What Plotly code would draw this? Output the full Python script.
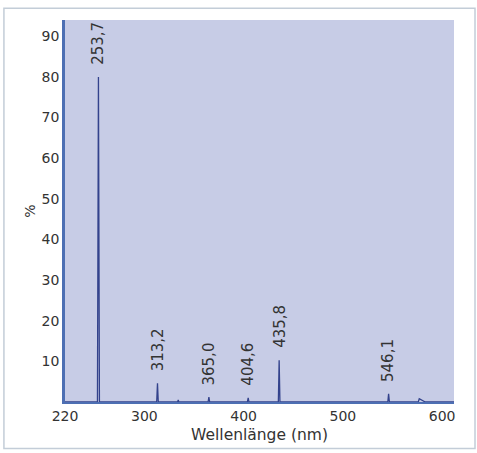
import plotly.graph_objects as go

# Spectrum points (wavelength nm, relative intensity %)
wavelength = [220, 252.7, 253.7, 254.7, 312.4, 313.2, 314.0, 333.5, 334.1, 334.7,
              364.2, 365.0, 365.8, 403.8, 404.6, 405.4, 435.0, 435.8, 436.6,
              545.3, 546.1, 546.9, 576.0, 577.0, 583.0, 612]
intensity = [0, 0, 80, 0, 0, 4.6, 0, 0, 0.5, 0,
             0, 1.2, 0, 0, 1.0, 0, 0, 10.3, 0,
             0, 2.0, 0, 0, 0.8, 0, 0]

peak_labels = ["253,7", "313,2", "365,0", "404,6", "435,8", "546,1"]
peak_x = [253.7, 313.2, 365.0, 404.6, 435.8, 546.1]
peak_y = [80, 4.6, 1.2, 1.0, 10.3, 2.0]

x_ticks = [220, 300, 400, 500, 600]
y_ticks = [10, 20, 30, 40, 50, 60, 70, 80, 90]

font_family = "DejaVu Sans"
text_color = "#333333"

fig = go.Figure()
fig.add_trace(go.Scatter(x=wavelength, y=intensity, mode="lines",
                         line=dict(color="#33428c", width=1.3),
                         hoverinfo="skip", showlegend=False))

for lbl, px, py in zip(peak_labels, peak_x, peak_y):
    fig.add_annotation(x=px, y=py, text=lbl, showarrow=False, textangle=-90,
                       xanchor="center", yanchor="bottom", yshift=10,
                       font=dict(family=font_family, size=15, color=text_color))

# outer light border
fig.add_shape(type="rect", xref="paper", yref="paper",
              x0=-0.157, x1=1.054, y0=-0.122, y1=1.031,
              line=dict(color="#c3cdd8", width=1.5), fillcolor="rgba(0,0,0,0)",
              layer="below")

fig.update_layout(
    width=477, height=453,
    margin=dict(l=65, r=23, t=20, b=49),
    paper_bgcolor="white",
    plot_bgcolor="#c7cce6",
    font=dict(family=font_family, size=14, color=text_color),
    xaxis=dict(range=[220, 612], tickvals=x_ticks, ticktext=[str(v) for v in x_ticks],
               showgrid=False, zeroline=False, showline=True, linecolor="#4d6fb3",
               linewidth=2, ticks="", title=dict(text="Wellenlänge (nm)", standoff=6,
               font=dict(size=15.5))),
    yaxis=dict(range=[0, 94], tickvals=y_ticks, showgrid=False, zeroline=False,
               showline=True, linecolor="#4d6fb3", linewidth=2.5, ticks="",
               title=dict(text="%", standoff=3, font=dict(size=14))),
)

fig.write_html("out.html", config={"displayModeBar": False},
               post_script="document.body.style.margin='0px';")
